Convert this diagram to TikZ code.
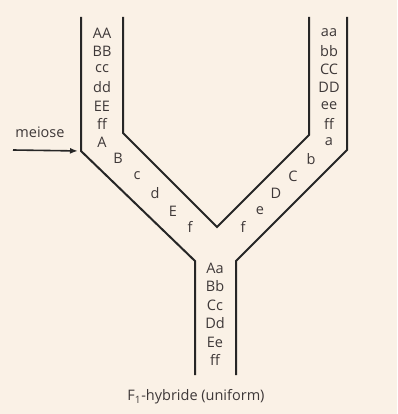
\documentclass[tikz,border=0pt]{standalone}
\usepackage{fontspec}
\setmainfont{Open Sans}
\usetikzlibrary{arrows.meta}
\definecolor{bg}{HTML}{FAF1E6}
\definecolor{txt}{HTML}{3E3838}
\definecolor{ln}{HTML}{262626}
\begin{document}
\begin{tikzpicture}[x=1pt,y=-1pt,
  wall/.style={draw=ln,line width=2pt,line join=miter},
  gene/.style={text=txt,font=\fontsize{14.5}{15}\selectfont,inner sep=0pt,anchor=center},
  lbl/.style={text=txt,font=\fontsize{14.5}{15}\selectfont,inner sep=0pt}]
\fill[bg] (0,0) rectangle (397,414);
\useasboundingbox (0,0) rectangle (397,414);
% walls
\coordinate (lo1) at (81,17);
\coordinate (lo2) at (81,151);
\coordinate (lo3) at (195,261);
\coordinate (lo4) at (195,375);
\coordinate (li1) at (123,17);
\coordinate (li2) at (123,133);
\coordinate (apex) at (217,227);
\coordinate (ri2) at (309,135);
\coordinate (ri1) at (309,17);
\coordinate (ro1) at (347,17);
\coordinate (ro2) at (347,150);
\coordinate (ro3) at (236,261);
\coordinate (ro4) at (236,375);
\draw[wall] (lo1) -- (lo2) -- (lo3) -- (lo4);
\draw[wall] (li1) -- (li2) -- (apex) -- (ri2) -- (ri1);
\draw[wall] (ro1) -- (ro2) -- (ro3) -- (ro4);
% left column
\node[gene] (l1) at (102,33) {AA};
\node[gene] (l2) at (102,51) {BB};
\node[gene] (l3) at (102,69) {cc};
\node[gene] (l4) at (102,87) {dd};
\node[gene] (l5) at (102,106) {EE};
\node[gene] (l6) at (102,124) {ff};
\node[gene] (l7) at (102,142) {A};
\node[gene] (l8) at (118,158) {B};
\node[gene] (l9) at (137,176) {c};
\node[gene] (l10) at (155,193) {d};
\node[gene] (l11) at (173,211) {E};
\node[gene] (l12) at (190,227) {f};
% right column
\node[gene] (r1) at (329,33) {aa};
\node[gene] (r2) at (329,51) {bb};
\node[gene] (r3) at (329,69) {CC};
\node[gene] (r4) at (329,87) {DD};
\node[gene] (r5) at (329,106) {ee};
\node[gene] (r6) at (329,124) {ff};
\node[gene] (r7) at (329,142) {a};
\node[gene] (r8) at (311,159) {b};
\node[gene] (r9) at (293,176) {C};
\node[gene] (r10) at (276,193) {D};
\node[gene] (r11) at (260,211) {e};
\node[gene] (r12) at (243,227) {f};
% bottom column
\node[gene] (b1) at (215,268) {Aa};
\node[gene] (b2) at (215,286) {Bb};
\node[gene] (b3) at (215,305) {Cc};
\node[gene] (b4) at (215,323) {Dd};
\node[gene] (b5) at (215,342) {Ee};
\node[gene] (b6) at (215,360) {ff};
\node[lbl] (title) at (196,397) {F\textsubscript{1}-hybride (uniform)};
% meiose
\node[lbl] (meiose) at (40,132) {meiose};
\coordinate (arrS) at (13,150);
\draw[draw=ln,line width=1.6pt,shorten >=3pt,-{Latex[length=8pt,width=6pt]}] (arrS) -- (lo2);
\end{tikzpicture}
\end{document}
